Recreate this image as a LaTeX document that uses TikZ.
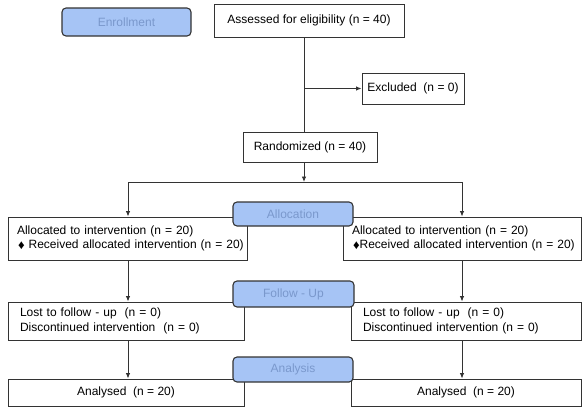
\documentclass[tikz,border=0pt]{standalone}
\usepackage{fontspec}
\setmainfont{Liberation Sans}
\usetikzlibrary{arrows.meta}
\definecolor{lblfill}{HTML}{A6C4F5}
\definecolor{lbltext}{HTML}{7A98CC}
\definecolor{edge}{HTML}{333333}
\tikzset{
  box/.style={draw=edge, line width=0.9pt, fill=white, inner sep=0pt, font=\fontsize{12}{14.5}\selectfont},
  lbox/.style={box, align=left, inner xsep=9pt},
  phase/.style={draw=edge, line width=1.1pt, fill=lblfill, rounded corners=4pt, text=lbltext, inner sep=0pt, font=\fontsize{12}{14}\selectfont},
  conn/.style={draw=edge, line width=0.9pt},
  arr/.style={conn, -{Latex[length=5.5pt,width=4.5pt]}}
}
\newcommand{\dmd}{{\fontsize{13}{14}\selectfont\raisebox{-0.5pt}{♦}}}
\begin{document}
\begin{tikzpicture}[x=1pt,y=-1pt]
\useasboundingbox (0,0) rectangle (588,407);
% main boxes
\node[box, minimum width=190pt, minimum height=33pt] (assess) at (309,20.5) {Assessed for eligibility (n = 40)};
\node[box, minimum width=102pt, minimum height=31pt] (excl) at (413,88.5) {Excluded\ \ (n = 0)};
\node[box, minimum width=134pt, minimum height=30pt] (rand) at (310,147) {Randomized (n = 40)};
\node[lbox, minimum width=239pt, minimum height=43pt, text width=221pt] (allocL) at (127.5,238.5) {\mbox{Allocated to intervention (n = 20)}\\\mbox{\hspace*{1pt}\dmd\ Received allocated intervention (n = 20)}};
\node[lbox, minimum width=238pt, minimum height=43pt, text width=220pt] (allocR) at (462,238.5) {\mbox{Allocated to intervention (n = 20)}\\\mbox{\hspace*{1pt}\dmd Received allocated intervention (n = 20)}};
\node[lbox, inner xsep=12pt, minimum width=236pt, minimum height=38pt, text width=212pt] (followL) at (126,321) {Lost to follow - up\ \ (n = 0)\\Discontinued intervention\ \ (n = 0)};
\node[lbox, inner xsep=12pt, minimum width=230pt, minimum height=38pt, text width=206pt] (followR) at (466,321) {Lost to follow - up\ \ (n = 0)\\Discontinued intervention (n = 0)};
\node[box, minimum width=236pt, minimum height=27pt] (anaL) at (126,392.5) {Analysed\ \ (n = 20)};
\node[box, minimum width=230pt, minimum height=27pt] (anaR) at (466,392.5) {Analysed\ \ (n = 20)};
% phase labels
\node[phase, minimum width=129pt, minimum height=28pt] (enroll) at (126.5,22) {Enrollment};
\node[phase, minimum width=120pt, minimum height=24pt] (allocation) at (293,214) {Allocation};
\node[phase, minimum width=121pt, minimum height=26pt] (followup) at (293.5,294) {Follow - Up};
\node[phase, minimum width=120pt, minimum height=25pt] (analysis) at (293,369.5) {Analysis};
% connectors
\coordinate (top) at (304,0);
\coordinate (split) at (304,182);
\draw[conn] (assess.south -| top) -- (rand.north -| top);
\draw[arr] (top |- excl.west) -- (excl.west);
\draw[arr] (rand.south -| top) -- (split);
\coordinate (lc) at (128,182);
\coordinate (rc) at (462,182);
\draw[arr] (lc) -- (lc |- allocL.north);
\draw[arr] (rc) -- (rc |- allocR.north);
\draw[conn] (lc) -- (rc);
\draw[arr] (lc |- allocL.south) -- (lc |- followL.north);
\draw[arr] (rc |- allocR.south) -- (rc |- followR.north);
\draw[arr] (lc |- followL.south) -- (lc |- anaL.north);
\draw[arr] (rc |- followR.south) -- (rc |- anaR.north);
\end{tikzpicture}
\end{document}
